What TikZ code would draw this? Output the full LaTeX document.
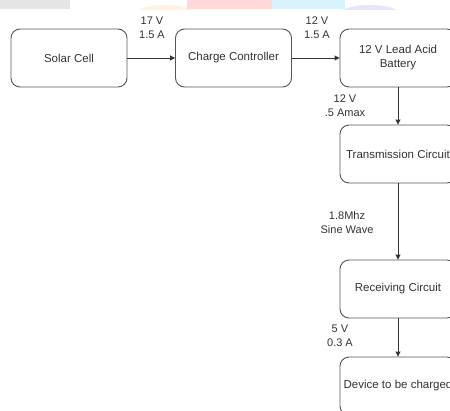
\documentclass[tikz,border=0pt]{standalone}
\usepackage{fontspec}
\setmainfont{Liberation Sans}
\usetikzlibrary{arrows.meta}
\definecolor{boxline}{HTML}{555555}
\definecolor{txt}{HTML}{333333}
\tikzset{
  blk/.style={draw=boxline, line width=0.9pt, rounded corners=9pt, minimum width=116pt, minimum height=58pt, inner sep=0pt, align=center, text=txt, font=\fontsize{11.5}{14}\selectfont},
  conn/.style={draw=txt, line width=0.9pt, -{Triangle[length=5pt,width=5pt]}},
  lbl/.style={text=txt, align=center, font=\fontsize{11}{14}\selectfont, inner sep=0pt}
}
\begin{document}
\begin{tikzpicture}[x=1pt,y=-1pt]
\useasboundingbox (0,0) rectangle (450,410);
\clip (0,0) rectangle (450,410);
\fill[white] (0,0) rectangle (450,410);
% faint watermark band at top
\begin{scope}
\clip (0,0) rectangle (450,9);
\fill[gray!20] (0,0) rectangle (70,9);
\fill[orange!12] (165,14) ellipse (30 and 9);
\fill[red!15] (187,0) rectangle (272,9);
\fill[cyan!15] (272,0) rectangle (345,9);
\fill[blue!10] (370,14) ellipse (30 and 9);
\end{scope}
\node[blk] (solar) at (69,58) {Solar Cell};
\node[blk] (cc) at (233.5,58) {Charge Controller};
\node[blk] (bat) at (398,58) {12 V Lead Acid\\Battery};
\node[blk] (tx) at (398,154) {Transmission Circuit};
\node[blk] (rx) at (398,289) {Receiving Circuit};
\node[blk] (dev) at (398,386) {Device to be charged};
\draw[conn] (solar) -- (cc);
\draw[conn] (cc) -- (bat);
\draw[conn] (bat) -- (tx);
\draw[conn] (tx) -- (rx);
\draw[conn] (rx) -- (dev);
\node[lbl] (l1) at (152,28) {17 V\\1.5 A};
\node[lbl] (l2) at (317,28) {12 V\\1.5 A};
\node[lbl] (l3) at (345,106) {12 V\\.5 Amax};
\node[lbl] (l4) at (347,223) {1.8Mhz\\Sine Wave};
\node[lbl] (l5) at (340,336) {5 V\\0.3 A};
\end{tikzpicture}
\end{document}
